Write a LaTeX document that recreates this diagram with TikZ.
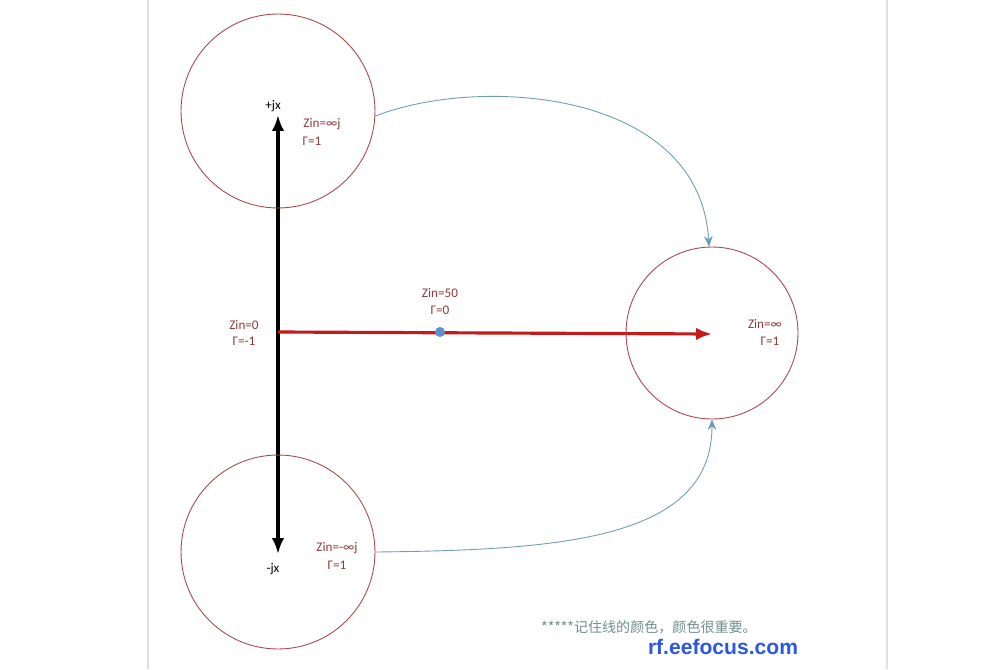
\documentclass[tikz,border=0pt]{standalone}
\usepackage{fontspec}
\setmainfont{Carlito}
\newfontfamily\cjk{Noto Sans CJK SC}
\newfontfamily\webfont{Liberation Sans}
\usepackage{tikz}
\usetikzlibrary{arrows.meta}
\pgfdeclarelayer{bg}
\pgfsetlayers{bg,main}
\definecolor{ringred}{HTML}{A9484C}
\definecolor{textred}{HTML}{8E3A3E}
\definecolor{curveblue}{HTML}{6E9DB4}
\definecolor{axisred}{HTML}{C41A1A}
\definecolor{dotblue}{HTML}{5B8FD2}
\definecolor{notegray}{HTML}{6F9090}
\definecolor{webblue}{HTML}{2C57E6}
\tikzset{
    ring/.style={circle, draw=ringred, line width=0.5pt, inner sep=0mm},
    lbl/.style={inner sep=0mm, text=textred, font=\fontsize{7.5}{9}\selectfont},
    axislbl/.style={inner sep=0mm, font=\fontsize{7.5}{9}\selectfont},
    swing/.style={draw=curveblue, line width=0.5pt, -{Stealth[length=6pt, width=5pt]}}
}

\begin{document}
\begin{tikzpicture}[x=0.02cm, y=-0.02cm]
    \useasboundingbox (0,0) rectangle (1003,669);

    \node (top) [ring, minimum size=3.88cm] at (278,111) {};
    \node (bot) [ring, minimum size=3.88cm] at (278,552) {};
    \node (right) [ring, minimum size=3.44cm] at (712,333) {};

    \coordinate (jxtop) at (278,115);
    \coordinate (jxbot) at (278,554);
    \coordinate (origin) at (278,332);
    \coordinate (tip) at (712,334);
    \node (match) [circle, fill=dotblue, inner sep=0mm, minimum size=0.2cm] at (440,332) {};

    \node (pjx) [axislbl] at (273,106) {+jx};
    \node (mjx) [axislbl] at (273,569) {-jx};
    \node (ztop) [lbl] at (322,124) {Zin=∞j};
    \node (gtop) [lbl] at (312,141) {Γ=1};
    \node (zbot) [lbl] at (337,548) {Zin=-∞j};
    \node (gbot) [lbl] at (337,565) {Γ=1};
    \node (zzero) [lbl] at (244,325) {Zin=0};
    \node (gzero) [lbl] at (244,341) {Γ=-1};
    \node (zfifty) [lbl] at (440,293) {Zin=50};
    \node (gfifty) [lbl] at (440,310) {Γ=0};
    \node (zinf) [lbl] at (765,324) {Zin=∞};
    \node (ginf) [lbl] at (770,341) {Γ=1};

    \node (note) [inner sep=0mm, text=notegray, font=\cjk\fontsize{8}{10}\selectfont] at (649,627) {*****记住线的颜色，颜色很重要。};
    \node (site) [inner sep=0mm, text=webblue, font=\webfont\bfseries\fontsize{12}{14}\selectfont] at (723,647) {rf.eefocus.com};

    \begin{pgfonlayer}{bg}
        \fill[white] (0,0) rectangle (1003,669);
        \draw[black!12, line width=0.6pt] (148,0) -- (148,669);
        \draw[black!12, line width=0.6pt] (887,0) -- (887,669);

        \draw[black, line width=1.8pt, {Latex[length=9pt, width=7pt]}-{Latex[length=9pt, width=7pt]}] (jxbot) -- (jxtop);
        \draw[axisred, line width=1.8pt, -{Latex[length=9pt, width=7pt]}] (origin) -- (tip);
        \draw[swing] (top.-3) .. controls (480,75) and (700,90) .. (right.92);
        \draw[swing] (bot.east) .. controls (560,550) and (712,540) .. (right.south);
    \end{pgfonlayer}
\end{tikzpicture}
\end{document}
